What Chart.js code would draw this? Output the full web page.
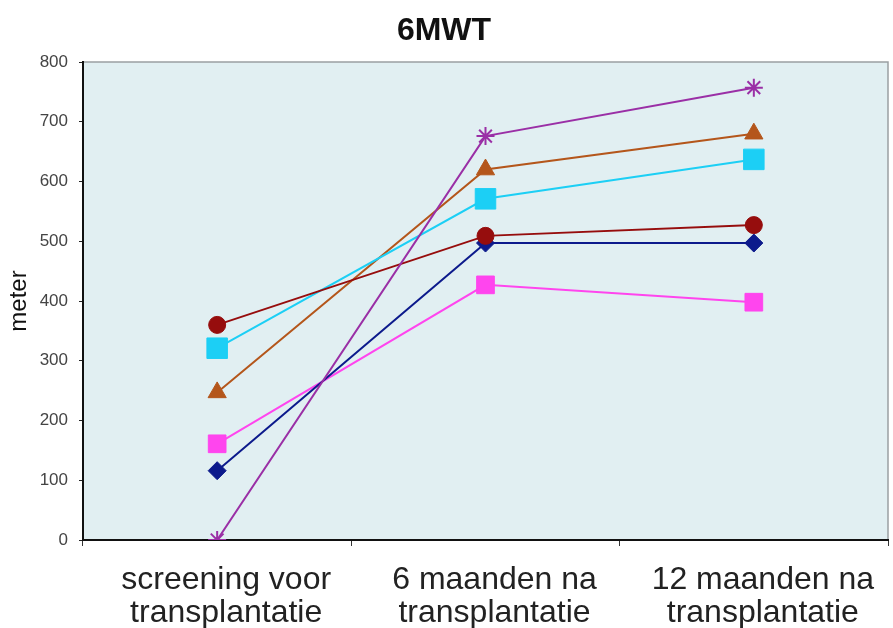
<!DOCTYPE html>
<html>
<head>
<meta charset="utf-8">
<script src="https://cdn.jsdelivr.net/npm/chart.js@4.4.1/dist/chart.umd.min.js"></script>
<style>
html,body{margin:0;padding:0;background:#fff;}
#wrap{width:893px;height:628px;}
</style>
</head>
<body>
<div id="wrap"><canvas id="c" width="893" height="628"></canvas></div>
<script>
const categories = [["screening voor","transplantatie"],["6 maanden na","transplantatie"],["12 maanden na","transplantatie"]];
const seriesCircle = [360, 509, 527];
const seriesCyan = [321, 571, 637];
const seriesTriangle = [247, 620, 680];
const seriesMagenta = [161, 427, 398];
const seriesDiamond = [116, 497, 497];
const seriesStar = [0, 676, 757];
const yTicks = [0, 100, 200, 300, 400, 500, 600, 700, 800];

const bgPlugin = {
  id: 'bg',
  beforeDraw(chart) {
    const {ctx, chartArea: a} = chart;
    ctx.save();
    ctx.fillStyle = '#e1eff2';
    ctx.fillRect(a.left, a.top, a.right - a.left, a.bottom - a.top);
    ctx.strokeStyle = '#9aa0a3';
    ctx.lineWidth = 1.5;
    ctx.beginPath();
    ctx.moveTo(a.left, a.top);
    ctx.lineTo(a.right, a.top);
    ctx.lineTo(a.right, a.bottom);
    ctx.stroke();
    ctx.restore();
  }
};

function ds(data, color, style, radius) {
  return {
    data, borderColor: color, backgroundColor: color,
    pointBackgroundColor: color, pointBorderColor: color,
    pointStyle: style, pointRadius: radius, pointBorderWidth: style === 'star' ? 2 : 1,
    borderWidth: 2, tension: 0
  };
}

const FONT = 'Liberation Sans, Arial, sans-serif';

new Chart(document.getElementById('c'), {
  type: 'line',
  data: {
    labels: categories,
    datasets: [
      ds(seriesStar, '#9a2fa6', 'star', 9),
      ds(seriesCircle, '#960d0d', 'circle', 8.5),
      ds(seriesCyan, '#1ccff5', 'rect', 14.5),
      ds(seriesTriangle, '#b4561b', 'triangle', 10.5),
      ds(seriesDiamond, '#0c1a8c', 'rectRot', 9),
      ds(seriesMagenta, '#ff45ee', 'rect', 12.5)
    ]
  },
  options: {
    responsive: false,
    animation: false,
    layout: {autoPadding: false, padding: {left: 0, right: 5, top: 0, bottom: 0}},
    plugins: {
      legend: {display: false},
      tooltip: {enabled: false},
      title: {
        display: true, text: '6MWT', color: '#111',
        font: {family: FONT, size: 32, weight: 'bold', lineHeight: 1.2},
        padding: {top: 12, bottom: 11.6}
      }
    },
    scales: {
      x: {
        offset: true,
        grid: {display: true, drawOnChartArea: false, drawTicks: true, tickLength: 6, color: '#333', offset: true},
        border: {display: true, color: '#111', width: 2},
        ticks: {
          color: '#222', padding: 17, labelOffset: 9,
          font: {family: FONT, size: 32, lineHeight: 1.05},
          maxRotation: 0, autoSkip: false
        },
        afterFit(s) { s.height = 88; }
      },
      y: {
        min: 0, max: 800,
        afterBuildTicks(s) { s.ticks = yTicks.map(v => ({value: v})); },
        grid: {display: true, drawOnChartArea: false, drawTicks: true, tickLength: 4, color: '#222'},
        border: {display: true, color: '#111', width: 2},
        ticks: {
          color: '#444', padding: 11,
          font: {family: FONT, size: 17}
        },
        title: {
          display: true, text: 'meter', color: '#111',
          font: {family: FONT, size: 24},
          padding: {top: 5, bottom: 0}
        },
        afterFit(s) { s.width = 83; }
      }
    }
  },
  plugins: [bgPlugin]
});
</script>
</body>
</html>
